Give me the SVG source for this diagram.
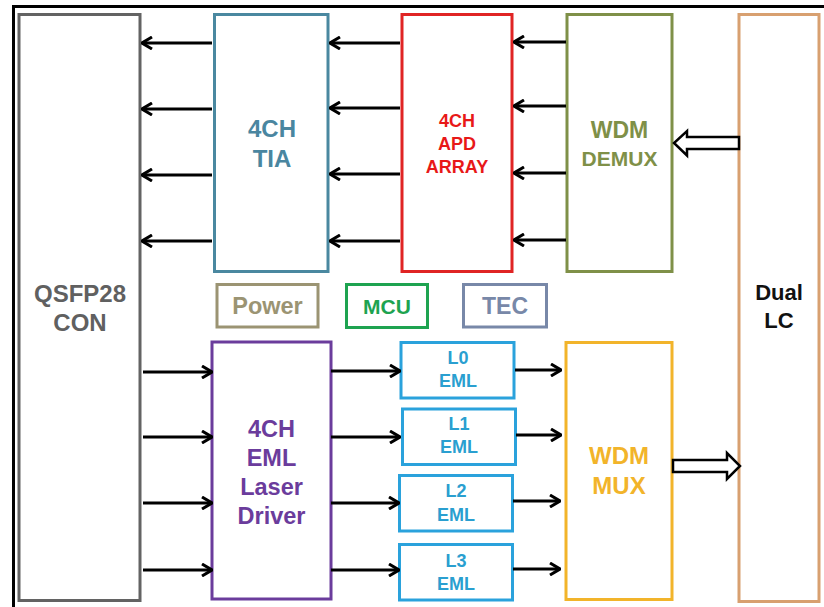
<svg xmlns="http://www.w3.org/2000/svg" width="824" height="607" viewBox="0 0 824 607">
<defs>
<style>
.box{fill:#fff;stroke-width:3}
.t{font-family:"Liberation Sans",Arial,sans-serif;font-weight:bold;text-anchor:middle}
.c{stroke:#000;stroke-width:3;fill:none}
</style>
<marker id="ah" viewBox="0 0 12 14" refX="11" refY="7" markerWidth="12" markerHeight="14" markerUnits="userSpaceOnUse" orient="auto">
<path d="M1,1 L11,7 L1,13" fill="none" stroke="#000" stroke-width="3"/>
</marker>
</defs>
<rect x="0" y="0" width="824" height="607" fill="#fff"/>
<rect x="13.5" y="6.5" width="900" height="700" fill="none" stroke="#000" stroke-width="3"/>

<g id="qsfp">
<rect class="box" x="19" y="14.5" width="121" height="586" stroke="#636363"/>
<text class="t" x="80" y="302" font-size="24" fill="#606060">QSFP28</text>
<text class="t" x="80" y="331" font-size="24" fill="#606060">CON</text>
</g>
<g id="tia">
<rect class="box" x="214.5" y="14.5" width="113.5" height="257" stroke="#4a88a0"/>
<text class="t" x="272" y="137" font-size="24" fill="#4a86a0">4CH</text>
<text class="t" x="272" y="167" font-size="24" fill="#4a86a0">TIA</text>
</g>
<g id="apd">
<rect class="box" x="402" y="14.5" width="110" height="257" stroke="#e02424"/>
<text class="t" x="457" y="127" font-size="18" fill="#e81818">4CH</text>
<text class="t" x="457" y="150" font-size="18" fill="#e81818">APD</text>
<text class="t" x="457" y="173" font-size="18" fill="#e81818">ARRAY</text>
</g>
<g id="demux">
<rect class="box" x="567" y="14.5" width="105" height="257" stroke="#7f9048"/>
<text class="t" x="619.5" y="138" font-size="23" fill="#7f9048">WDM</text>
<text class="t" x="619.5" y="166" font-size="21" fill="#7f9048">DEMUX</text>
</g>
<g id="duallc">
<rect class="box" x="739" y="14.5" width="80" height="587" stroke="#d8a070"/>
<text class="t" x="779" y="300" font-size="22" fill="#111">Dual</text>
<text class="t" x="779" y="328" font-size="22" fill="#111">LC</text>
</g>
<g id="power">
<rect class="box" x="217" y="284.5" width="101" height="42.5" stroke="#9b9473"/>
<text class="t" x="267.5" y="314" font-size="23.5" fill="#9b9473">Power</text>
</g>
<g id="mcu">
<rect class="box" x="346.5" y="284.5" width="81" height="43" stroke="#1ea350"/>
<text class="t" x="387" y="314" font-size="21" fill="#1ea350">MCU</text>
</g>
<g id="tec">
<rect class="box" x="463.5" y="284.5" width="83" height="42.5" stroke="#7888a8"/>
<text class="t" x="505" y="314" font-size="23" fill="#7888a8">TEC</text>
</g>
<g id="driver">
<rect class="box" x="212" y="342" width="119" height="257" stroke="#6b3c9c"/>
<text class="t" x="271.5" y="437" font-size="23.5" fill="#6b3c9c">4CH</text>
<text class="t" x="271.5" y="466" font-size="23.5" fill="#6b3c9c">EML</text>
<text class="t" x="271.5" y="495" font-size="23.5" fill="#6b3c9c">Laser</text>
<text class="t" x="271.5" y="524" font-size="23.5" fill="#6b3c9c">Driver</text>
</g>
<g id="l0">
<rect class="box" x="401" y="342.5" width="113" height="55.5" stroke="#2aa2dc"/>
<text class="t" x="458" y="364" font-size="18" fill="#2a9fd0">L0</text>
<text class="t" x="458" y="387" font-size="18" fill="#2a9fd0">EML</text>
</g>
<g id="l1">
<rect class="box" x="402.5" y="409" width="113" height="55.5" stroke="#2aa2dc"/>
<text class="t" x="459" y="430" font-size="18" fill="#2a9fd0">L1</text>
<text class="t" x="459" y="453" font-size="18" fill="#2a9fd0">EML</text>
</g>
<g id="l2">
<rect class="box" x="399.5" y="475.5" width="113" height="55.5" stroke="#2aa2dc"/>
<text class="t" x="456" y="497" font-size="18" fill="#2a9fd0">L2</text>
<text class="t" x="456" y="521" font-size="18" fill="#2a9fd0">EML</text>
</g>
<g id="l3">
<rect class="box" x="399.5" y="544.5" width="113" height="55.5" stroke="#2aa2dc"/>
<text class="t" x="456" y="567" font-size="18" fill="#2a9fd0">L3</text>
<text class="t" x="456" y="590" font-size="18" fill="#2a9fd0">EML</text>
</g>
<g id="mux">
<rect class="box" x="566" y="342.5" width="106" height="257" stroke="#f2b42a"/>
<text class="t" x="619" y="464" font-size="24" fill="#f2b42a">WDM</text>
<text class="t" x="619" y="494" font-size="24" fill="#f2b42a">MUX</text>
</g>

<g id="connectors">
<line class="c" x1="212" y1="43" x2="142" y2="43" marker-end="url(#ah)"/>
<line class="c" x1="212" y1="109" x2="142" y2="109" marker-end="url(#ah)"/>
<line class="c" x1="212" y1="175" x2="142" y2="175" marker-end="url(#ah)"/>
<line class="c" x1="212" y1="241" x2="142" y2="241" marker-end="url(#ah)"/>
<line class="c" x1="400" y1="43" x2="330" y2="43" marker-end="url(#ah)"/>
<line class="c" x1="400" y1="108" x2="330" y2="108" marker-end="url(#ah)"/>
<line class="c" x1="400" y1="174" x2="330" y2="174" marker-end="url(#ah)"/>
<line class="c" x1="400" y1="241" x2="330" y2="241" marker-end="url(#ah)"/>
<line class="c" x1="566" y1="42" x2="514" y2="42" marker-end="url(#ah)"/>
<line class="c" x1="566" y1="106" x2="514" y2="106" marker-end="url(#ah)"/>
<line class="c" x1="566" y1="173" x2="514" y2="173" marker-end="url(#ah)"/>
<line class="c" x1="566" y1="240" x2="514" y2="240" marker-end="url(#ah)"/>
<line class="c" x1="143" y1="372" x2="212" y2="372" marker-end="url(#ah)"/>
<line class="c" x1="143" y1="437" x2="212" y2="437" marker-end="url(#ah)"/>
<line class="c" x1="143" y1="503" x2="212" y2="503" marker-end="url(#ah)"/>
<line class="c" x1="143" y1="570" x2="212" y2="570" marker-end="url(#ah)"/>
<line class="c" x1="331" y1="371" x2="400" y2="371" marker-end="url(#ah)"/>
<line class="c" x1="331" y1="437" x2="400" y2="437" marker-end="url(#ah)"/>
<line class="c" x1="331" y1="503" x2="399" y2="503" marker-end="url(#ah)"/>
<line class="c" x1="331" y1="570" x2="399" y2="570" marker-end="url(#ah)"/>
<line class="c" x1="515" y1="370" x2="561" y2="370" marker-end="url(#ah)"/>
<line class="c" x1="516" y1="435" x2="561" y2="435" marker-end="url(#ah)"/>
<line class="c" x1="513" y1="501" x2="560" y2="501" marker-end="url(#ah)"/>
<line class="c" x1="513" y1="569" x2="560" y2="569" marker-end="url(#ah)"/>
<path d="M739,137 L687,137 L687,131 L674,143 L687,155.5 L687,149 L739,149 Z" fill="#fff" stroke="#000" stroke-width="2.5" stroke-linejoin="miter"/>
<path d="M673,460 L727,460 L727,453 L740,466 L727,479 L727,472 L673,472 Z" fill="#fff" stroke="#000" stroke-width="2.5" stroke-linejoin="miter"/>
</g>
</svg>
